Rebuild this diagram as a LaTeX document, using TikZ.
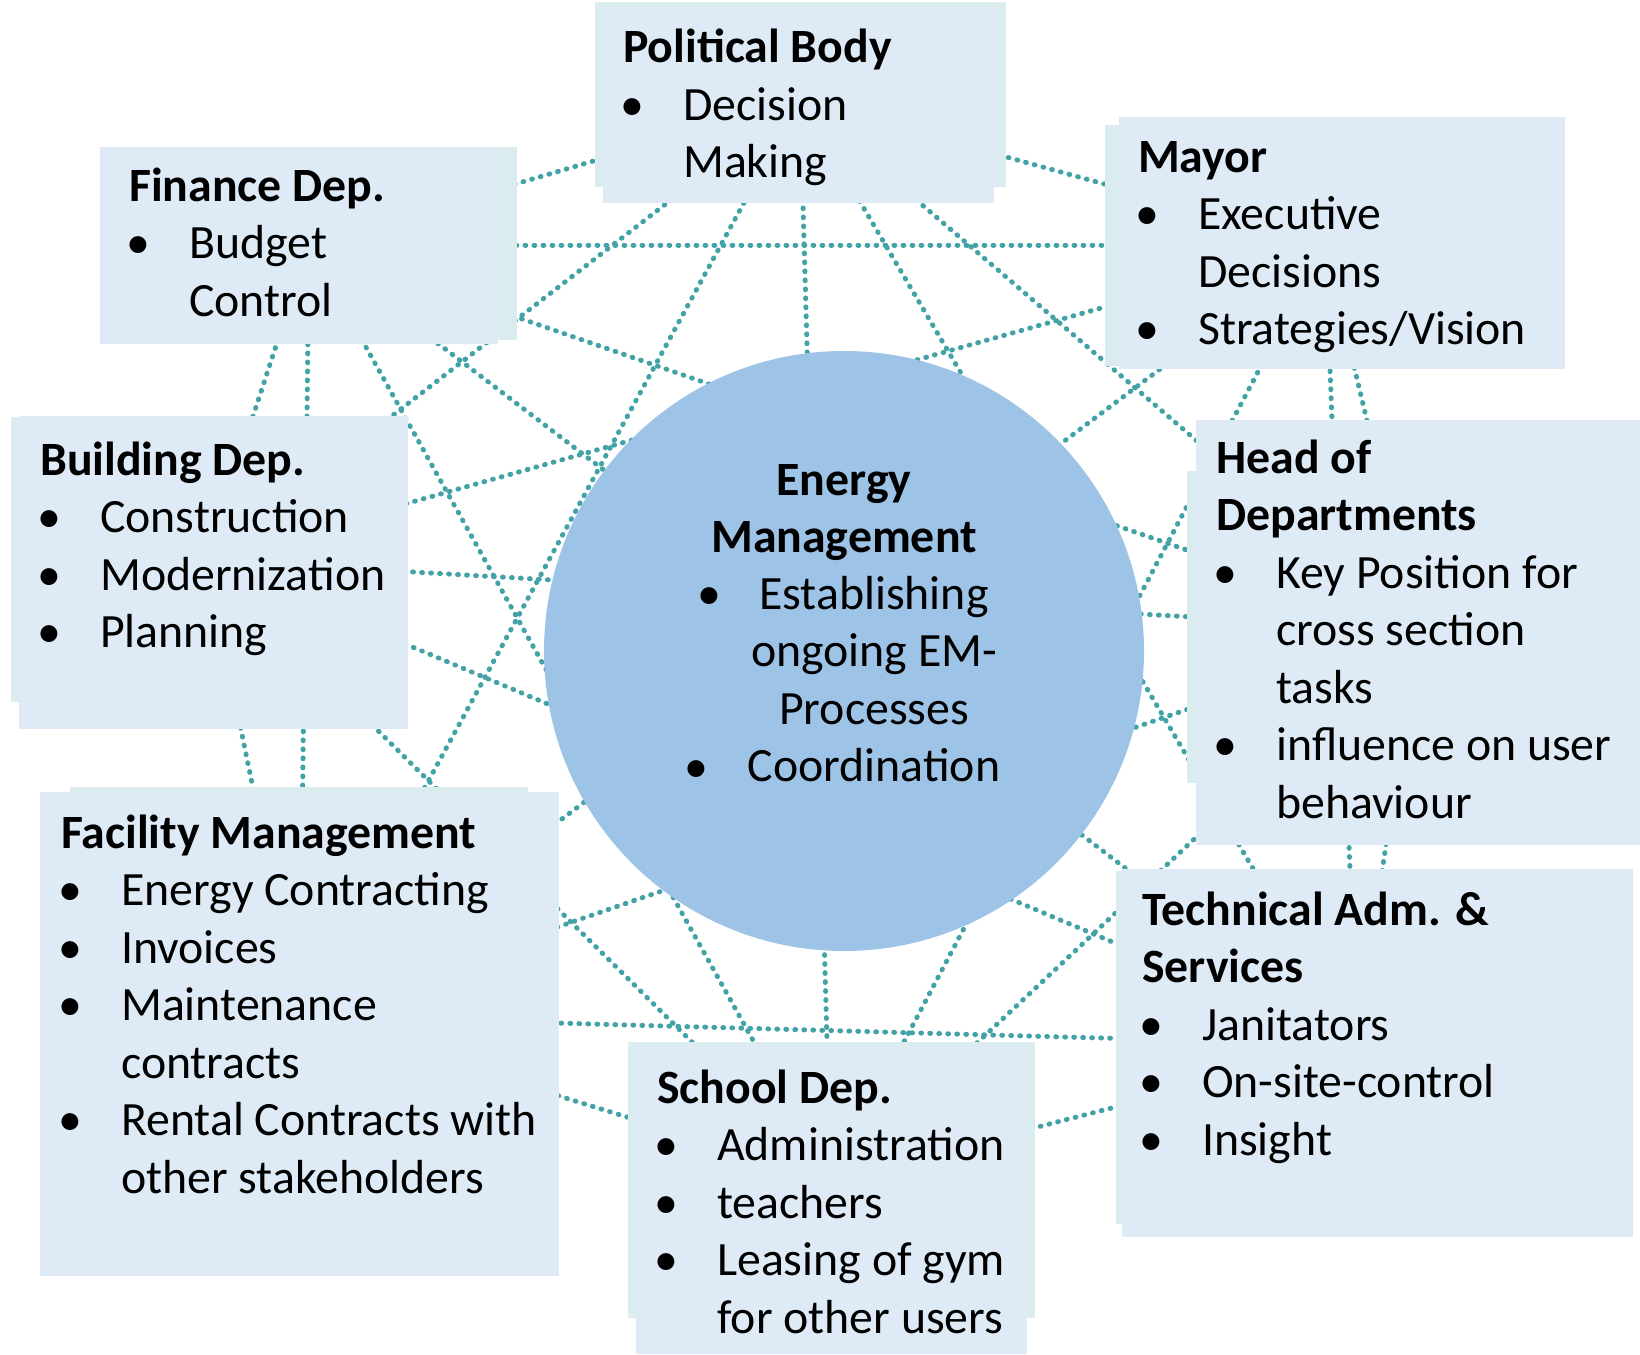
\documentclass[tikz,border=0pt]{standalone}
\usepackage{fontspec}
\setmainfont{Carlito}
\pgfdeclarelayer{lines}
\pgfdeclarelayer{back}
\pgfsetlayers{lines,back,main}
\definecolor{frontc}{HTML}{DEEBF7}
\definecolor{backc}{HTML}{DAECEE}
\definecolor{circc}{HTML}{9DC3E6}
\definecolor{dotc}{HTML}{42A2A6}
\newcommand\myb{\makebox[60pt][l]{\hspace{-3pt}\textbullet}}
\newcommand\myi{\hspace*{60pt}}
\begin{document}
\begin{tikzpicture}[x=1pt,y=-1pt,
 front/.style={fill=frontc, inner sep=0pt, outer sep=0pt, anchor=north west},
 txt/.style={inner sep=0pt, anchor=base west, font=\fontsize{47.8}{57.5}\selectfont},
 ctxt/.style={inner sep=0pt, anchor=base, font=\fontsize{47.8}{57.5}\selectfont},
 conn/.style={draw=dotc, line width=5pt, line cap=round, dash pattern=on 0.8pt off 8.2pt}]
\useasboundingbox (0,0) rectangle (1640,1354);

% front boxes
\node[front, minimum width=391pt, minimum height=196pt] (pb) at (603,7) {};
\node[front, minimum width=398pt, minimum height=197pt] (fin) at (100,147) {};
\node[front, minimum width=446pt, minimum height=252pt] (may) at (1119,117) {};
\node[front, minimum width=389pt, minimum height=313pt] (bld) at (19,416) {};
\node[front, minimum width=444pt, minimum height=425pt] (hod) at (1196,420) {};
\node[front, minimum width=519pt, minimum height=484pt] (fac) at (40,792) {};
\node[front, minimum width=391pt, minimum height=308pt] (sch) at (636,1046) {};
\node[front, minimum width=511pt, minimum height=368pt] (tec) at (1122,869) {};

% hubs where the connectors meet (centres of the original shapes)
\coordinate (pbh) at (800,100);
\coordinate (finh) at (309,245);
\coordinate (mayh) at (1325,245);
\coordinate (bldh) at (206,560);
\coordinate (hodh) at (1417,630);
\coordinate (fach) at (300,1016);
\coordinate (schh) at (831,1180);
\coordinate (tech) at (1357,1045);

% back boxes
\begin{pgfonlayer}{back}
\fill[backc] (595,2) rectangle (1006,187);
\fill[backc] (110,147) rectangle (517,340);
\fill[backc] (1105,125) rectangle (1540,366);
\fill[backc] (11,417) rectangle (400,702);
\fill[backc] (1187,471) rectangle (1640,783);
\fill[backc] (70,787) rectangle (528,1200);
\fill[backc] (628,1042) rectangle (1035,1318);
\fill[backc] (1116,871) rectangle (1620,1224);
\end{pgfonlayer}

% connectors
\begin{pgfonlayer}{lines}
\foreach \a/\b in {pbh/finh, pbh/mayh, pbh/bldh, pbh/hodh, pbh/fach, pbh/schh, pbh/tech,
  finh/mayh, finh/bldh, finh/hodh, finh/fach, finh/schh, finh/tech,
  mayh/bldh, mayh/hodh, mayh/fach, mayh/schh, mayh/tech,
  bldh/hodh, bldh/fach, bldh/schh, bldh/tech,
  hodh/fach, hodh/schh, hodh/tech,
  fach/schh, fach/tech, schh/tech}
  \draw[conn] (\a) -- (\b);
\end{pgfonlayer}

% central circle
\node[circle, fill=circc, minimum size=600pt, inner sep=0pt] (em) at (844,651) {};

% texts
\node[txt] (pbt) at (623,63) {\parbox[t]{700pt}{\raggedright\textbf{Political Body}\\
 \myb Decision\\ \myi Making}};
\node[txt] (fint) at (129,201) {\parbox[t]{700pt}{\raggedright\textbf{Finance Dep.}\\
 \myb Budget\\ \myi Control}};
\node[txt] (mayt) at (1138,172) {\parbox[t]{700pt}{\raggedright\textbf{Mayor}\\
 \myb Executive\\ \myi Decisions\\ \myb Strategies/Vision}};
\node[txt] (bldt) at (40,475) {\parbox[t]{700pt}{\raggedright\textbf{Building Dep.}\\
 \myb Construction\\ \myb Modernization\\ \myb Planning}};
\node[txt] (hodt) at (1216,473) {\parbox[t]{700pt}{\raggedright\textbf{Head of}\\ \textbf{Departments}\\
 \myb Key Position for\\ \myi cross section\\ \myi tasks\\ \myb influence on user\\ \myi behaviour}};
\node[txt] (fact) at (61,848) {\parbox[t]{700pt}{\raggedright\textbf{Facility Management}\\
 \myb Energy Contracting\\ \myb Invoices\\ \myb Maintenance\\ \myi contracts\\
 \myb Rental Contracts with\\ \myi other stakeholders}};
\node[txt] (scht) at (657,1103) {\parbox[t]{700pt}{\raggedright\textbf{School Dep.}\\
 \myb Administration\\ \myb teachers\\ \myb Leasing of gym\\ \myi for other users}};
\node[txt] (tect) at (1142,925) {\parbox[t]{700pt}{\raggedright\textbf{Technical Adm. \&}\\ \textbf{Services}\\
 \myb Janitators\\ \myb On-site-control\\ \myb Insight}};

% circle texts
\node[ctxt] (emt) at (844,495) {\parbox[t]{500pt}{\centering\textbf{Energy}\\ \textbf{Management}}};
\node[ctxt] (emi) at (874,609) {\parbox[t]{500pt}{\centering Establishing\\ ongoing EM-\\ Processes\\ Coordination}};
\node[txt] (emb1) at (697,609) {\textbullet};
\node[txt] (emb2) at (684,782) {\textbullet};
\end{tikzpicture}
\end{document}
